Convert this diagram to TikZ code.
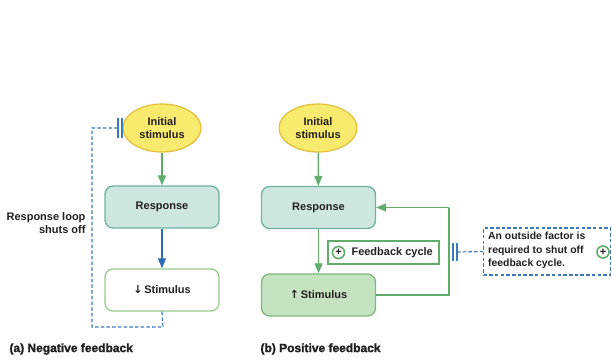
\documentclass[tikz,border=0pt]{standalone}
\usepackage{fontspec}
\setmainfont{Liberation Sans}
\newfontfamily\arrowfont{DejaVu Sans}
\newfontfamily\heavy{Liberation Sans}[BoldFeatures={FakeBold=1.8}]
\usetikzlibrary{shapes.geometric,arrows.meta}
\definecolor{ellfill}{HTML}{F8EA6C}
\definecolor{elldraw}{HTML}{E3BE3E}
\definecolor{respfill}{HTML}{CDE6DF}
\definecolor{respdraw}{HTML}{6CB3A2}
\definecolor{stimdraw}{HTML}{98C98C}
\definecolor{stimfill}{HTML}{C5E2C1}
\definecolor{stimdrawb}{HTML}{7DB97C}
\definecolor{arrgreen}{HTML}{5FAC6B}
\definecolor{arrblue}{HTML}{2E6DAD}
\definecolor{dashblue}{HTML}{3C7BBA}
\definecolor{txt}{HTML}{231F20}
\tikzset{
  every node/.style={font=\bfseries\fontsize{11}{13.5}\selectfont, text=txt},
  initstim/.style={ellipse, draw=elldraw, fill=ellfill, line width=1.2pt, minimum width=78pt, minimum height=48pt, inner sep=0pt, align=center},
  respbox/.style={rectangle, rounded corners=8pt, draw=respdraw, fill=respfill, line width=1.3pt, minimum width=114pt, minimum height=42pt},
  stimboxw/.style={rectangle, rounded corners=8pt, draw=stimdraw, fill=white, line width=1.3pt, minimum width=114pt, minimum height=42pt},
  stimboxg/.style={rectangle, rounded corners=8pt, draw=stimdrawb, fill=stimfill, line width=1.3pt, minimum width=114pt, minimum height=42pt},
  garrow/.style={draw=arrgreen, line width=1.2pt, -{Triangle[length=10pt,width=8pt]}, color=arrgreen},
  barrow/.style={draw=arrblue, line width=1.4pt, -{Triangle[length=10pt,width=8pt]}, color=arrblue},
  loopline/.style={draw=arrgreen, line width=1.2pt},
  dashline/.style={draw=dashblue, line width=1.2pt, dash pattern=on 3.5pt off 2.2pt},
  barline/.style={draw=dashblue, line width=1.3pt},
  cplus/.style={circle, draw=arrgreen, line width=1.6pt, fill=white, minimum size=12pt, inner sep=0pt, font=\bfseries\fontsize{11}{11}\selectfont},
  caption/.style={anchor=west, font=\heavy\bfseries\fontsize{12}{14}\selectfont},
}
\begin{document}
\begin{tikzpicture}[x=1pt,y=-1pt]
\useasboundingbox (0,0) rectangle (612,360);

% ---------- (a) negative feedback ----------
\node[initstim] (ia) at (162,128) {Initial\\stimulus};
\node[respbox] (ra) at (162,207) {Response};
\node[stimboxw] (sa) at (162,290) {{\arrowfont\fontsize{11}{11}\selectfont ↓}\,Stimulus};
\draw[garrow] (ia) -- (ra);
\draw[barrow] (ra) -- (sa);

\coordinate (ba1) at (118,118);
\coordinate (ba1b) at (118,138);
\coordinate (ba2) at (122,118);
\coordinate (ba2b) at (122,138);
\draw[barline] (ba1) -- (ba1b);
\draw[barline] (ba2) -- (ba2b);
\coordinate (da0) at (118,128);
\coordinate (da1) at (92,128);
\coordinate (da2) at (92,327);
\coordinate (da3) at (163,327);
\draw[dashline] (sa.south) -- (da3) -- (da2) -- (da1) -- (da0);

\node[anchor=east, align=right] (loopa) at (89,223) {Response loop\\shuts off};

\node[caption] (capa) at (6,349) {(a) Negative feedback};

% ---------- (b) positive feedback ----------
\node[initstim] (ib) at (318,128) {Initial\\stimulus};
\node[respbox] (rb) at (318.5,207.5) {Response};
\node[stimboxg] (sb) at (318.5,295) {{\arrowfont\fontsize{11}{11}\selectfont ↑}\,Stimulus};
\draw[garrow] (ib) -- (rb);
\draw[garrow] (rb) -- (sb);

\coordinate (lb1) at (449,295);
\coordinate (lb2) at (449,207.5);
\draw[loopline] (sb.east) -- (lb1) -- (lb2);
\draw[garrow] (lb2) -- (rb.east);

\node[rectangle, draw=arrgreen, line width=2.6pt, fill=white, minimum width=111pt, minimum height=23pt, inner sep=0pt] (fc) at (383.5,252.5) {};
\node[cplus] (pc1) at (338.5,252.5) {+};
\node[anchor=west] (fct) at (348,252.5) {Feedback cycle};

\coordinate (bb1) at (453,243);
\coordinate (bb1b) at (453,261);
\coordinate (bb2) at (457,243);
\coordinate (bb2b) at (457,261);
\draw[barline] (bb1) -- (bb1b);
\draw[barline] (bb2) -- (bb2b);

\node[rectangle, dashline, minimum width=127pt, minimum height=47pt, inner sep=0pt] (ob) at (547,251.5) {};
\coordinate (db0) at (457,252);
\draw[dashline] (db0) -- (ob.west);
\node[anchor=north west, align=left, inner sep=0pt, font=\bfseries\fontsize{10.4}{13.5}\selectfont] (obt) at (488,232) {An outside factor is\\required to shut off\\feedback cycle.};
\node[cplus] (pc2) at (603,252) {+};

\node[caption] (capb) at (257,349) {(b) Positive feedback};
\end{tikzpicture}
\end{document}
